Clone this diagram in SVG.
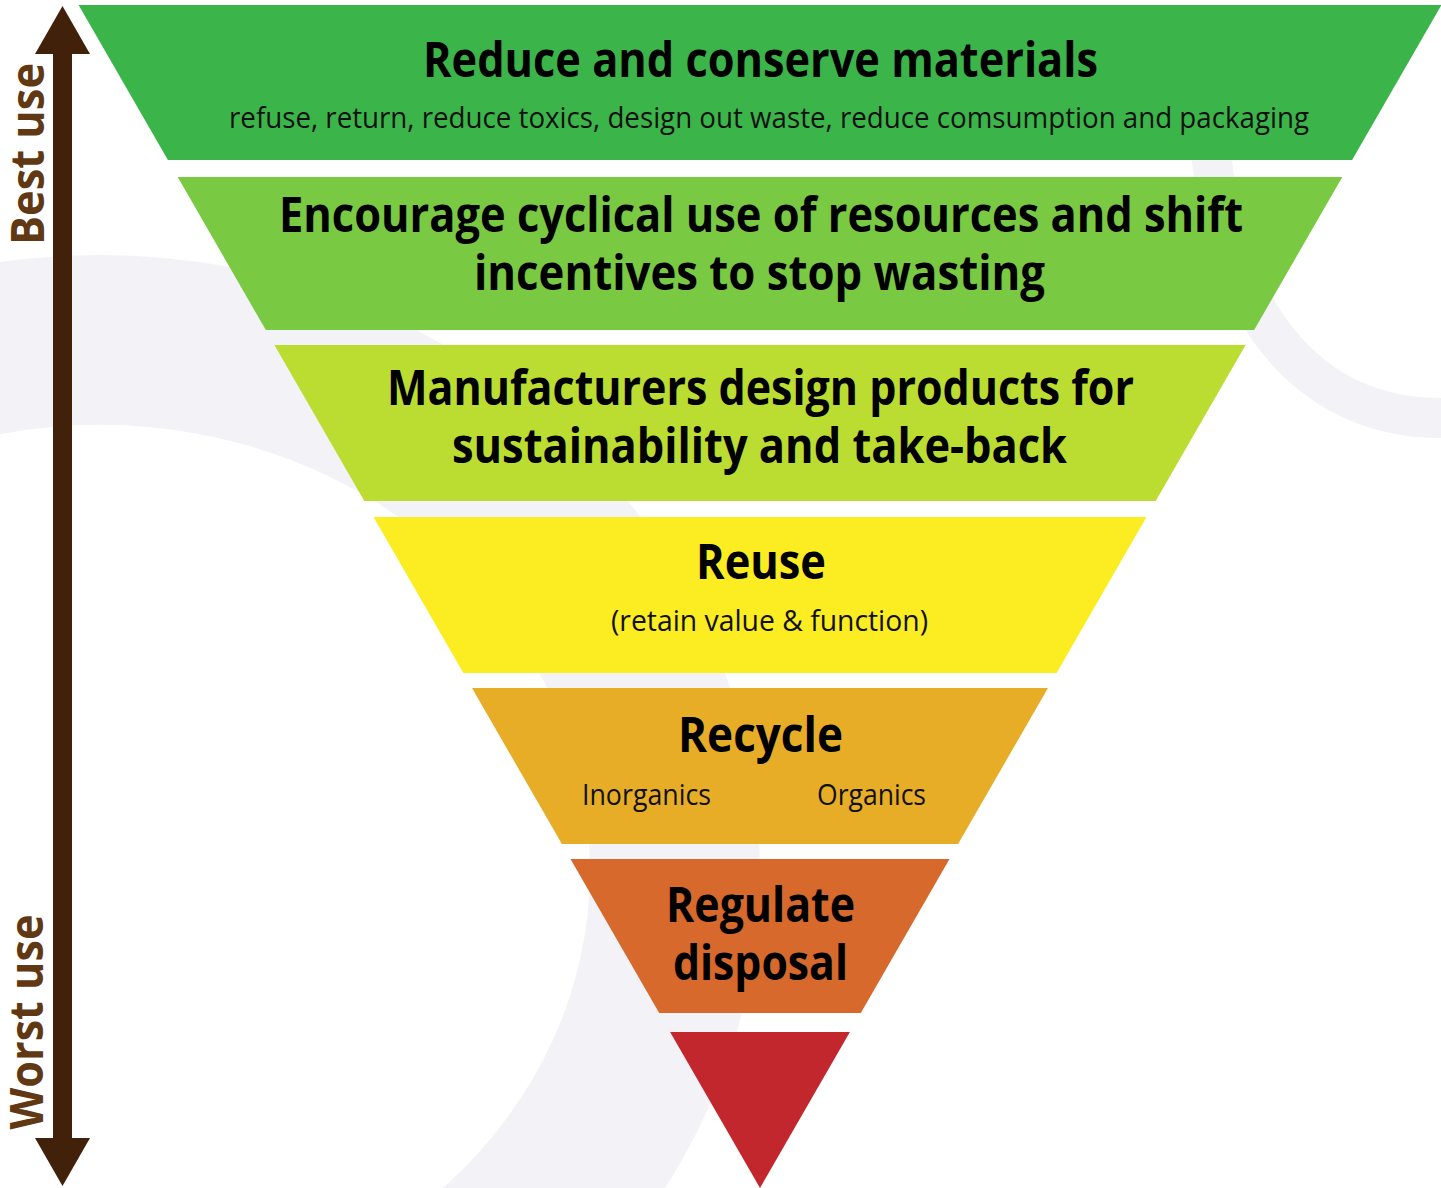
<svg xmlns="http://www.w3.org/2000/svg" width="1441" height="1188" viewBox="0 0 1441 1188">
<style>
.t{font-family:"Open Sans","Noto Sans","DejaVu Sans",sans-serif;font-weight:700;font-size:48px;fill:#000;text-anchor:middle}
.s{font-family:"Open Sans","Noto Sans","DejaVu Sans",sans-serif;font-weight:400;font-size:30px;fill:#111;text-anchor:middle}
.lab{font-family:"Open Sans","Noto Sans","DejaVu Sans",sans-serif;font-weight:700;font-size:46px;fill:#603813;text-anchor:middle}
.wm{fill:#f3f2f6}
</style>
<defs>
<marker id="ah" viewBox="0 -28 49 56" refX="1" refY="0" markerWidth="49" markerHeight="56" markerUnits="userSpaceOnUse" orient="auto-start-reverse">
<path d="M0,-27.5 L48,0 L0,27.5 Z" fill="#42210b"/>
</marker>
</defs>
<rect width="1441" height="1188" fill="#ffffff"/>
<g id="watermark">
<path class="wm" fill-rule="evenodd" d="M-560,870 A660,615 0 1,0 760,870 A660,615 0 1,0 -560,870 Z M-390,870 A490,445 0 1,0 590,870 A490,445 0 1,0 -390,870 Z"/>
<path d="M1210,140 C1225,330 1320,418 1441,418" fill="none" stroke="#f3f2f6" stroke-width="40"/>
</g>
<g id="band1">
<polygon points="78.6,5 1441.4,5 1352.1,160 167.9,160" fill="#3bb54a"/>
<text class="t" x="760.5" y="77" textLength="675" lengthAdjust="spacingAndGlyphs">Reduce and conserve materials</text>
<text class="s" x="769" y="128" textLength="1080" lengthAdjust="spacingAndGlyphs">refuse, return, reduce toxics, design out waste, reduce comsumption and packaging</text>
</g>
<g id="band2">
<polygon points="177.7,177 1342.3,177 1254.2,330 265.8,330" fill="#7ac943"/>
<text class="t" x="761" y="232" textLength="964" lengthAdjust="spacingAndGlyphs">Encourage cyclical use of resources and shift</text>
<text class="t" x="759.5" y="290" textLength="571" lengthAdjust="spacingAndGlyphs">incentives to stop wasting</text>
</g>
<g id="band3">
<polygon points="274.4,345 1245.6,345 1155.7,501 364.3,501" fill="#bbdc30"/>
<text class="t" x="760.5" y="405" textLength="747" lengthAdjust="spacingAndGlyphs">Manufacturers design products for</text>
<text class="t" x="759.5" y="463" textLength="615" lengthAdjust="spacingAndGlyphs">sustainability and take-back</text>
</g>
<g id="band4">
<polygon points="373.5,517 1146.5,517 1056.6,673 463.4,673" fill="#fcec22"/>
<text class="t" x="761" y="579" textLength="130" lengthAdjust="spacingAndGlyphs">Reuse</text>
<text class="s" x="769.5" y="631" textLength="317" lengthAdjust="spacingAndGlyphs">(retain value &amp; function)</text>
</g>
<g id="band5">
<polygon points="472,688 1048,688 958.1,844 561.9,844" fill="#e8ad27"/>
<text class="t" x="760.5" y="752" textLength="165" lengthAdjust="spacingAndGlyphs">Recycle</text>
<text class="s" x="646.5" y="805" textLength="129" lengthAdjust="spacingAndGlyphs">Inorganics</text>
<text class="s" x="871.5" y="805" textLength="109" lengthAdjust="spacingAndGlyphs">Organics</text>
</g>
<g id="band6">
<polygon points="570.5,859 949.5,859 860.8,1013 659.2,1013" fill="#d6692b"/>
<text class="t" x="760.5" y="922" textLength="189" lengthAdjust="spacingAndGlyphs">Regulate</text>
<text class="t" x="760.5" y="980" textLength="175" lengthAdjust="spacingAndGlyphs">disposal</text>
</g>
<g id="band7">
<polygon points="670.1,1032 849.9,1032 760,1188" fill="#c1272d"/>
</g>
<g id="connectors">
<line x1="62.5" y1="53" x2="62.5" y2="1139" stroke="#42210b" stroke-width="19" marker-start="url(#ah)" marker-end="url(#ah)"/>
</g>
<g id="label-best">
<text class="lab" transform="translate(44,154) rotate(-90)" textLength="182" lengthAdjust="spacingAndGlyphs">Best use</text>
</g>
<g id="label-worst">
<text class="lab" transform="translate(43,1022) rotate(-90)" textLength="215" lengthAdjust="spacingAndGlyphs">Worst use</text>
</g>
</svg>
